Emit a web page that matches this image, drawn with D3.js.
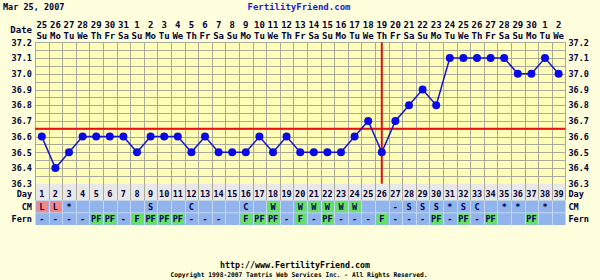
<!DOCTYPE html>
<html>
<head>
<meta charset="utf-8">
<script src="https://cdn.jsdelivr.net/npm/d3@7"></script>
<style>
	body { margin: 0; background: #ffffdd; }
	svg { display: block; }
	text { font-family: "DejaVu Sans Mono", monospace; font-weight: bold; }
</style>
</head>
<body>
<svg id="chart" width="600" height="280"></svg>
<script>

var chartDate = "Mar 25, 2007";
var days = d3.range(1, 40);
var dateLabels = ["25", "26", "27", "28", "29", "30", "31", "1", "2", "3", "4", "5", "6", "7", "8", "9", "10", "11", "12", "13", "14", "15", "16", "17", "18", "19", "20", "21", "22", "23", "24", "25", "26", "27", "28", "29", "30", "1", "2"];
var weekdays = ["Su", "Mo", "Tu", "We", "Th", "Fr", "Sa"];
var temps = [36.6, 36.4, 36.5, 36.6, 36.6, 36.6, 36.6, 36.5, 36.6, 36.6, 36.6, 36.5, 36.6, 36.5, 36.5, 36.5, 36.6, 36.5, 36.6, 36.5, 36.5, 36.5, 36.5, 36.6, 36.7, 36.5, 36.7, 36.8, 36.9, 36.8, 37.1, 37.1, 37.1, 37.1, 37.1, 37.0, 37.0, 37.1, 37.0];
var cm = ["L", "L", "*", "", "", "", "", "", "S", "", "", "C", "", "", "", "C", "", "W", "", "W", "W", "W", "W", "W", "", "", "-", "S", "S", "S", "*", "S", "C", "", "*", "*", "", "*", ""];
var fern = ["-", "-", "-", "-", "PF", "PF", "-", "F", "PF", "PF", "PF", "-", "-", "-", "", "F", "PF", "PF", "-", "F", "-", "PF", "-", "-", "-", "F", "-", "-", "-", "PF", "-", "PF", "-", "PF", "", "", "PF", "", ""];
var coverline = 36.65;
var ovulationDay = 26;
var tempTicks = [36.3, 36.4, 36.5, 36.6, 36.7, 36.8, 36.9, 37.0, 37.1, 37.2];

function renderChart(element) {

	var svg = d3.select(element);

	var plot = { left: 35, right: 565.4, top: 42.4, bottom: 183.7 };
	var rows = { day: [183.7, 200.5], cm: [200.5, 212.8], fern: [212.8, 225] };

	var xScale = d3.scaleBand()
		.domain(days)
		.range([plot.left, plot.right]);

	var yScale = d3.scaleLinear()
		.domain([36.3, 37.2])
		.range([plot.bottom, plot.top]);

	var cx = d => xScale(d) + xScale.bandwidth() / 2;

	// plot background
	svg.append("rect")
		.attr("x", plot.left).attr("y", plot.top)
		.attr("width", plot.right - plot.left).attr("height", plot.bottom - plot.top)
		.attr("fill", "#ffffb8");

	// horizontal grid every 0.05
	var hGrid = d3.range(0, 19).map(i => 36.3 + i * 0.05);
	svg.append("g").selectAll("line")
		.data(hGrid)
		.enter()
		.append("line")
		.attr("x1", plot.left).attr("x2", plot.right)
		.attr("y1", d => Math.round(yScale(d)) + 0.5)
		.attr("y2", d => Math.round(yScale(d)) + 0.5)
		.attr("stroke", "#aaaa9c")
		.attr("stroke-width", 1);

	// table rows
	svg.append("rect")
		.attr("x", plot.left).attr("y", rows.day[0])
		.attr("width", plot.right - plot.left).attr("height", rows.day[1] - rows.day[0])
		.attr("fill", "#e8e8e8");

	svg.append("rect")
		.attr("x", plot.left).attr("y", rows.cm[0])
		.attr("width", plot.right - plot.left).attr("height", rows.fern[1] - rows.cm[0])
		.attr("fill", "#92b4ec");

	// vertical grid at column boundaries
	var vGrid = days.map(d => xScale(d)).concat([plot.right]);
	svg.append("g").selectAll("line")
		.data(vGrid)
		.enter()
		.append("line")
		.attr("x1", d => Math.round(d) + 0.5).attr("x2", d => Math.round(d) + 0.5)
		.attr("y1", plot.top).attr("y2", rows.day[1])
		.attr("stroke", "#aaaa9c")
		.attr("stroke-width", 1);

	svg.append("g").selectAll("line")
		.data(vGrid)
		.enter()
		.append("line")
		.attr("x1", d => Math.round(d) + 0.5).attr("x2", d => Math.round(d) + 0.5)
		.attr("y1", rows.cm[0]).attr("y2", rows.fern[1])
		.attr("stroke", "#c4d6f4")
		.attr("stroke-width", 1);

	svg.append("line")
		.attr("x1", plot.left).attr("x2", plot.right)
		.attr("y1", rows.cm[1]).attr("y2", rows.cm[1])
		.attr("stroke", "#c4d6f4");

	// coloured cells
	var cmColor = { "L": "#f08888", "W": "#66e066" };
	var fernColor = { "F": "#66e066", "PF": "#66e066" };

	svg.append("g").selectAll("rect")
		.data(days.filter((d, i) => cmColor[cm[i]]))
		.enter()
		.append("rect")
		.attr("x", d => xScale(d) + 1.5).attr("y", rows.cm[0] + 1)
		.attr("width", xScale.bandwidth() - 2).attr("height", rows.cm[1] - rows.cm[0] - 1.5)
		.attr("fill", d => cmColor[cm[d - 1]]);

	svg.append("g").selectAll("rect")
		.data(days.filter((d, i) => fernColor[fern[i]]))
		.enter()
		.append("rect")
		.attr("x", d => xScale(d) + 1.5).attr("y", rows.fern[0] + 1)
		.attr("width", xScale.bandwidth() - 2).attr("height", rows.fern[1] - rows.fern[0] - 1.5)
		.attr("fill", d => fernColor[fern[d - 1]]);

	// table text
	var cellText = function(values, y, color) {
		svg.append("g").selectAll("text")
			.data(days)
			.enter()
			.append("text")
			.attr("x", d => cx(d))
			.attr("y", y)
			.attr("text-anchor", "middle")
			.attr("dominant-baseline", "central")
			.attr("font-size", 8.5)
			.attr("fill", color)
			.text((d, i) => values[i]);
	};

	cellText(days, 194, "#000033");
	cellText(cm, (rows.cm[0] + rows.cm[1]) / 2 + 0.5, "#000055");
	cellText(fern, (rows.fern[0] + rows.fern[1]) / 2 + 0.5, "#000055");

	// row labels on both sides
	var rowLabels = [["Day", 194], ["CM", (rows.cm[0] + rows.cm[1]) / 2 + 0.5], ["Fern", (rows.fern[0] + rows.fern[1]) / 2 + 0.5]];
	rowLabels.forEach(r => {
		svg.append("text")
			.attr("x", plot.left - 3).attr("y", r[1])
			.attr("text-anchor", "end").attr("dominant-baseline", "central")
			.attr("font-size", 8.5).attr("fill", "#000033")
			.text(r[0]);
		svg.append("text")
			.attr("x", plot.right + 3).attr("y", r[1])
			.attr("text-anchor", "start").attr("dominant-baseline", "central")
			.attr("font-size", 8.5).attr("fill", "#000033")
			.text(r[0]);
	});

	// date header
	svg.append("g").selectAll("text")
		.data(days)
		.enter()
		.append("text")
		.attr("x", d => cx(d)).attr("y", 25)
		.attr("text-anchor", "middle").attr("dominant-baseline", "central")
		.attr("font-size", 9).attr("fill", "#000033")
		.text((d, i) => dateLabels[i]);

	svg.append("g").selectAll("text")
		.data(days)
		.enter()
		.append("text")
		.attr("x", d => cx(d)).attr("y", 35.5)
		.attr("text-anchor", "middle").attr("dominant-baseline", "central")
		.attr("font-size", 9).attr("fill", "#000033")
		.text((d, i) => weekdays[i % 7]);

	svg.append("text")
		.attr("x", plot.left - 3).attr("y", 29.5)
		.attr("text-anchor", "end").attr("dominant-baseline", "central")
		.attr("font-size", 9).attr("fill", "#000033")
		.text("Date");

	// temperature axes, left and right
	var leftAxis = d3.axisLeft(yScale).tickValues(tempTicks).tickFormat(d3.format(".1f")).tickSize(0).tickPadding(3);
	var rightAxis = d3.axisRight(yScale).tickValues(tempTicks).tickFormat(d3.format(".1f")).tickSize(0).tickPadding(3);

	svg.append("g").attr("transform", "translate(" + plot.left + ",0)").call(leftAxis);
	svg.append("g").attr("transform", "translate(" + plot.right + ",0)").call(rightAxis);

	svg.selectAll(".domain").remove();
	svg.selectAll(".tick text")
		.attr("font-family", "DejaVu Sans Mono")
		.attr("font-weight", "bold")
		.attr("font-size", 8.5)
		.attr("fill", "#000033");

	// coverline and ovulation line
	svg.append("line")
		.attr("x1", plot.left).attr("x2", plot.right)
		.attr("y1", yScale(coverline)).attr("y2", yScale(coverline))
		.attr("stroke", "#ee1111").attr("stroke-width", 2);

	svg.append("line")
		.attr("x1", cx(ovulationDay)).attr("x2", cx(ovulationDay))
		.attr("y1", plot.top).attr("y2", plot.bottom)
		.attr("stroke", "#dd1111").attr("stroke-width", 2);

	// temperature line
	var line = d3.line()
		.x((d, i) => cx(days[i]))
		.y(d => yScale(d));

	svg.append("path")
		.datum(temps)
		.attr("d", line)
		.attr("fill", "none")
		.attr("stroke", "#1515d0")
		.attr("stroke-width", 1.5);

	svg.append("g").selectAll("circle")
		.data(temps)
		.enter()
		.append("circle")
		.attr("cx", (d, i) => cx(days[i]))
		.attr("cy", d => yScale(d))
		.attr("r", 4)
		.attr("fill", "#0a0ae8");

	// titles
	svg.append("text")
		.attr("x", 3).attr("y", 7)
		.attr("dominant-baseline", "central")
		.attr("font-size", 8.5).attr("fill", "#000033")
		.text(chartDate);

	svg.append("text")
		.attr("x", 299).attr("y", 7)
		.attr("text-anchor", "middle").attr("dominant-baseline", "central")
		.attr("font-size", 9).attr("fill", "#1a1ad8")
		.text("FertilityFriend.com");

	svg.append("text")
		.attr("x", 295).attr("y", 265)
		.attr("text-anchor", "middle").attr("dominant-baseline", "central")
		.attr("font-size", 8.3).attr("fill", "#000000")
		.text("http://www.FertilityFriend.com");

	svg.append("text")
		.attr("x", 299).attr("y", 275)
		.attr("text-anchor", "middle").attr("dominant-baseline", "central")
		.attr("font-size", 6.5).attr("font-weight", "normal").attr("fill", "#000000")
		.attr("textLength", 257).attr("lengthAdjust", "spacingAndGlyphs")
		.text("Copyright 1998-2007 Tamtris Web Services Inc. - All Rights Reserved.");

}

renderChart("#chart");

</script>
</body>
</html>
